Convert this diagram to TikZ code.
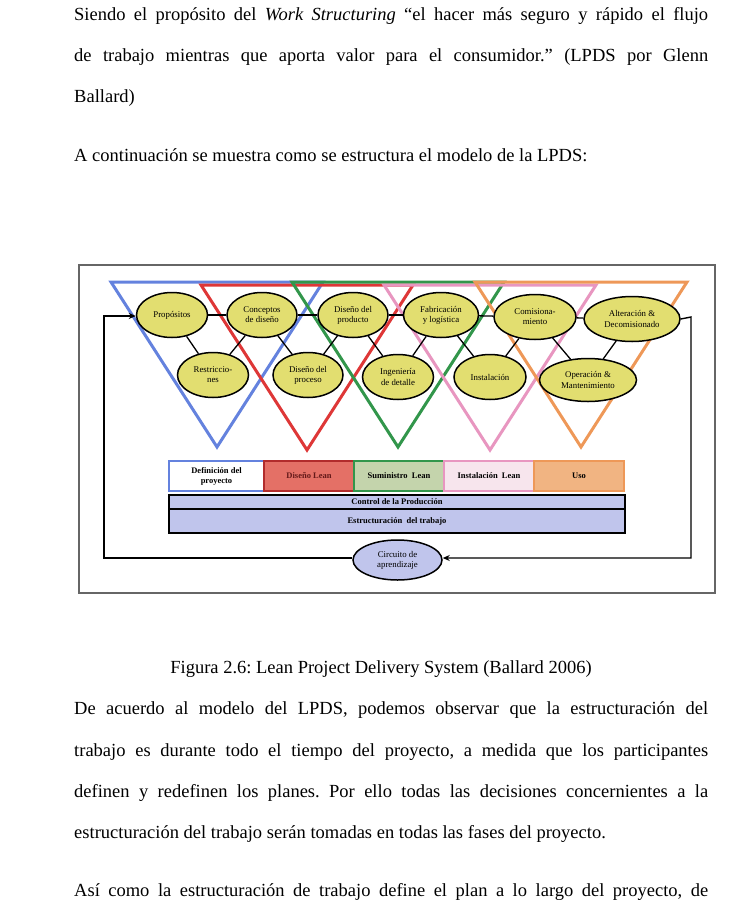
\documentclass[tikz,border=0pt]{standalone}
\usepackage{fontspec}
\setmainfont{Liberation Serif}
\usetikzlibrary{positioning,arrows.meta,calc,shapes.geometric}
\definecolor{lpblue}{RGB}{100,130,222}
\definecolor{lpred}{RGB}{222,55,55}
\definecolor{lpgreen}{RGB}{50,150,75}
\definecolor{lppink}{RGB}{232,150,192}
\definecolor{lporange}{RGB}{238,152,88}
\definecolor{lpyellow}{RGB}{226,222,112}
\definecolor{lplav}{RGB}{192,197,236}
\definecolor{lpsalmon}{RGB}{228,112,102}
\definecolor{lpsage}{RGB}{196,212,172}
\definecolor{lpblush}{RGB}{247,229,237}
\definecolor{lppeach}{RGB}{241,180,130}
\definecolor{lpframe}{gray}{0.40}
\frenchspacing
\tikzset{
  txt/.style={font=\fontsize{18.5}{20}\selectfont,inner sep=0pt,anchor=base west},
  captxt/.style={font=\fontsize{18.5}{20}\selectfont,inner sep=0pt,anchor=base},
  act/.style={ellipse,draw,line width=1.5pt,fill=lpyellow,minimum width=71pt,
              minimum height=45pt,align=center,inner sep=0pt,
              font=\fontsize{8.8}{10.2}\selectfont},
  phase/.style={draw,line width=1.3pt,minimum height=30pt,minimum width=90pt,
                align=center,inner sep=0pt,font=\fontsize{8.5}{10}\selectfont\bfseries},
  bar/.style={draw,line width=1.4pt,fill=lplav,minimum width=456pt,align=center,
              inner sep=0pt,font=\fontsize{8.5}{10}\selectfont\bfseries},
  tri/.style={line width=3pt,line join=miter},
  ln/.style={line width=1.3pt},
  loop/.style={-{Stealth[length=7pt,width=6pt]},line width=1.4pt},
}
\begin{document}
\frenchspacing
\begin{tikzpicture}[x=1pt,y=-1pt]
\useasboundingbox (0,0) rectangle (733,916);

% texto de la pagina
\node[txt] (l1) at (74,20) {\makebox[634pt][s]{Siendo el propósito del \textit{Work Structuring} “el hacer más seguro y rápido el flujo}};
\node[txt] (l2) at (74,61) {\makebox[634pt][s]{de trabajo mientras que aporta valor para el consumidor.” (LPDS por Glenn}};
\node[txt] (l3) at (74,102) {Ballard)};
\node[txt] (l4) at (74,161) {A continuación se muestra como se estructura el modelo de la LPDS:};

% marco de la figura
\draw[lpframe,line width=1.8pt] (79,265) rectangle (715,593);

% triangulos de fases
\foreach \c/\vx/\ty/\by in {lpblue/217/282/447,lpred/307/285/450,lpgreen/398/282/447,
                            lppink/490/285/450,lporange/581/282/447}
  \draw[tri,\c] (\vx-106,\ty) -- (\vx+106,\ty) -- (\vx,\by) -- cycle;

% actividades
\node[act] (prop) at (172,315) {Propósitos};
\node[act,minimum width=70pt] (conc) at (262,315) {Conceptos\\de diseño};
\node[act,minimum width=70pt] (dpro) at (353,315) {Diseño del\\producto};
\node[act,minimum width=75pt] (fabr) at (441,315) {Fabricación\\y logística};
\node[act,minimum width=82pt] (comi) at (535,317) {Comisiona-\\miento};
\node[act,minimum width=96pt] (alte) at (632,319) {Alteración \&\\Decomisionado};

\node[act] (rest) at (213,375) {Restriccio-\\nes};
\node[act,minimum width=70pt] (dpce) at (308,375) {Diseño del\\proceso};
\node[act] (inge) at (398,377) {Ingeniería\\de detalle};
\node[act,minimum width=72pt] (inst) at (490,377) {Instalación};
\node[act,minimum width=97pt,minimum height=43pt] (oper) at (588,380) {Operación \&\\Mantenimiento};

\draw[ln] (prop) -- (conc);
\draw[ln] (conc) -- (dpro);
\draw[ln] (dpro) -- (fabr);
\draw[ln] (fabr) -- (comi);
\draw[ln] (comi) -- (alte);
\draw[ln] (prop) -- (rest) -- (conc) -- (dpce) -- (dpro) -- (inge) -- (fabr)
          -- (inst) -- (comi) -- (oper) -- (alte);

% fases del proyecto
\node[phase,draw=lpblue,fill=white,minimum width=95pt] (fdef) at (216.5,476) {Definición del\\proyecto};
\node[phase,draw=lpred!80!black,fill=lpsalmon,text=lpred!45!black] (fdis) at (309,476) {Diseño Lean};
\node[phase,draw=lpgreen,fill=lpsage] (fsum) at (399,476) {Suministro\ \ Lean};
\node[phase,draw=lppink,fill=lpblush] (fins) at (489,476) {Instalación\ \ Lean};
\node[phase,draw=lporange,fill=lppeach] (fuso) at (579,476) {Uso};

\node[bar,minimum height=14pt] (ctrl) at (397,502) {Control\ de\ la\ Producción};
\node[bar,minimum height=24pt] (estr) at (397,521) {Estructuración\ \ del\ trabajo};

% circuito de aprendizaje
\node[act,fill=lplav,minimum width=89pt,minimum height=40pt] (circ) at (397.5,560) {Circuito de\\aprendizaje};
\coordinate (lb) at (104,558);
\coordinate (lt) at (104,316);
\coordinate (rt) at (691,317);
\coordinate (rb) at (691,558);
\draw[loop] (circ.west |- lb) -- (lb) -- (lt) -- (prop.west |- lt);
\draw[loop] (alte.east) -- (rt) -- (rb) -- (circ.east |- rb);

\node[captxt] (fig) at (381,673) {Figura 2.6: Lean Project Delivery System (Ballard 2006)};

\node[txt] (l5) at (74,714) {\makebox[634pt][s]{De acuerdo al modelo del LPDS, podemos observar que la estructuración del}};
\node[txt] (l6) at (74,756) {\makebox[634pt][s]{trabajo es durante todo el tiempo del proyecto, a medida que los participantes}};
\node[txt] (l7) at (74,797) {\makebox[634pt][s]{definen y redefinen los planes. Por ello todas las decisiones concernientes a la}};
\node[txt] (l8) at (74,838) {estructuración del trabajo serán tomadas en todas las fases del proyecto.};
\node[txt] (l9) at (74,896) {\makebox[634pt][s]{Así como la estructuración de trabajo define el plan a lo largo del proyecto, de}};
\end{tikzpicture}
\end{document}
